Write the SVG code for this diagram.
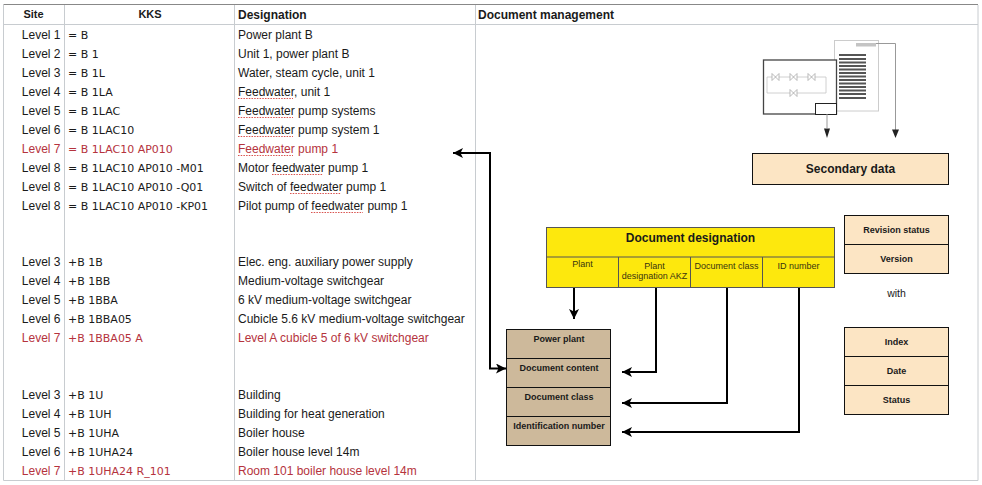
<svg xmlns="http://www.w3.org/2000/svg" width="982" height="485" viewBox="0 0 982 485">
<style>
text{font-family:"Liberation Sans",Arial,sans-serif;font-size:12px;fill:#1a1a1a}
text.r{fill:#b5333d}
.s{text-anchor:end}
.k{font-family:"DejaVu Sans",sans-serif;font-size:11px}
.h{font-weight:bold;font-size:12px}
.hs{font-weight:bold;font-size:11px;text-anchor:middle}
.b{font-weight:bold;font-size:9px;text-anchor:middle}
.y{font-size:9px;text-anchor:middle;fill:#3a3410}
.grid{stroke:#cfd2d6;stroke-width:1;fill:none}
.sq{stroke:#d9534f;stroke-width:1.2;stroke-dasharray:1.5 1.2;fill:none}
.box{stroke:#111;stroke-width:1}
.peach{fill:#fce5c4}
.tan{fill:#cdb99b}
.yel{fill:#fde80d;stroke:#555;stroke-width:1}
.c{fill:none;stroke:#000;stroke-width:2}
.t{fill:none;stroke:#999;stroke-width:1}
.g{fill:none;stroke:#ccc;stroke-width:1}
</style>
<defs>
<marker id="a" markerUnits="userSpaceOnUse" markerWidth="12" markerHeight="10" refX="10" refY="5" orient="auto-start-reverse"><path d="M0 0L10 5L0 10L2.500 5Z" fill="#000"/></marker>
</defs>
<rect width="982" height="485" fill="#fff"/>
<g id="table">
<path class="grid" d="M3.500 480.500V5M3.500 24.500H978M64.500 5V480.500M234.500 5V480.500M475.500 5V480.500M3.500 480.500H978M978 5V480.500" style="stroke:#c8ccd0"/>
<path d="M3.500 4.500H978" stroke="#888" fill="none"/>
<text class="hs" x="33.500" y="18">Site</text>
<text class="hs" x="150" y="18">KKS</text>
<text class="h" x="238" y="19">Designation</text>
<text class="h" x="478" y="19">Document management</text>
<g id="rows">
<text class="s" x="60.500" y="39">Level 1</text><text class="k" x="68" y="39">= B</text><text x="238" y="39">Power plant B</text>
<text class="s" x="60.500" y="58">Level 2</text><text class="k" x="68" y="58">= B 1</text><text x="238" y="58">Unit 1, power plant B</text>
<text class="s" x="60.500" y="77">Level 3</text><text class="k" x="68" y="77">= B 1L</text><text x="238" y="77">Water, steam cycle, unit 1</text>
<text class="s" x="60.500" y="96">Level 4</text><text class="k" x="68" y="96">= B 1LA</text><text x="238" y="96">Feedwater, unit 1</text>
<text class="s" x="60.500" y="115">Level 5</text><text class="k" x="68" y="115">= B 1LAC</text><text x="238" y="115">Feedwater pump systems</text>
<text class="s" x="60.500" y="134">Level 6</text><text class="k" x="68" y="134">= B 1LAC10</text><text x="238" y="134">Feedwater pump system 1</text>
<text class="s r" x="60.500" y="153">Level 7</text><text class="k r" x="68" y="153">= B 1LAC10 AP010</text><text class="r" x="238" y="153">Feedwater pump 1</text>
<text class="s" x="60.500" y="172">Level 8</text><text class="k" x="68" y="172">= B 1LAC10 AP010 -M01</text><text x="238" y="172">Motor feedwater pump 1</text>
<text class="s" x="60.500" y="191">Level 8</text><text class="k" x="68" y="191">= B 1LAC10 AP010 -Q01</text><text x="238" y="191">Switch of feedwater pump 1</text>
<text class="s" x="60.500" y="210">Level 8</text><text class="k" x="68" y="210">= B 1LAC10 AP010 -KP01</text><text x="238" y="210">Pilot pump of feedwater pump 1</text>
<text class="s" x="60.500" y="266">Level 3</text><text class="k" x="68" y="266">+B 1B</text><text x="238" y="266">Elec. eng. auxiliary power supply</text>
<text class="s" x="60.500" y="285">Level 4</text><text class="k" x="68" y="285">+B 1BB</text><text x="238" y="285">Medium-voltage switchgear</text>
<text class="s" x="60.500" y="304">Level 5</text><text class="k" x="68" y="304">+B 1BBA</text><text x="238" y="304">6 kV medium-voltage switchgear</text>
<text class="s" x="60.500" y="323">Level 6</text><text class="k" x="68" y="323">+B 1BBA05</text><text x="238" y="323">Cubicle 5.6 kV medium-voltage switchgear</text>
<text class="s r" x="60.500" y="342">Level 7</text><text class="k r" x="68" y="342">+B 1BBA05 A</text><text class="r" x="238" y="342">Level A cubicle 5 of 6 kV switchgear</text>
<text class="s" x="60.500" y="399">Level 3</text><text class="k" x="68" y="399">+B 1U</text><text x="238" y="399">Building</text>
<text class="s" x="60.500" y="418">Level 4</text><text class="k" x="68" y="418">+B 1UH</text><text x="238" y="418">Building for heat generation</text>
<text class="s" x="60.500" y="437">Level 5</text><text class="k" x="68" y="437">+B 1UHA</text><text x="238" y="437">Boiler house</text>
<text class="s" x="60.500" y="456">Level 6</text><text class="k" x="68" y="456">+B 1UHA24</text><text x="238" y="456">Boiler house level 14m</text>
<text class="s r" x="60.500" y="475">Level 7</text><text class="k r" x="68" y="475">+B 1UHA24 R_101</text><text class="r" x="238" y="475">Room 101 boiler house level 14m</text>
</g>
<path class="sq" d="M238 98.500H293M238 117.500H293M238 136.500H293M238 155.500H293M272 174.500H323M290 193.500H341M311 212.500H363"/>
</g>
<g id="drawing-sheet">
<rect class="g" x="834.500" y="40.500" width="44" height="70.500"/>
<rect x="856" y="43" width="20" height="3.500" fill="#c4c4c4"/>
<path d="M839 55H866M839 59H866M839 62.500H866M839 66H866M839 69.500H866M839 73H866M839 76.500H866M839 80H866M839 83.500H866M839 87H866M839 90.500H866M839 94H866M839 98H866" stroke="#555" stroke-width="2" fill="none"/>
<rect x="763.500" y="60" width="73" height="54" fill="#fff" stroke="#444" stroke-width="1.300"/>
<rect x="815.500" y="103.500" width="21" height="11" fill="#fff" stroke="#222"/>
<path d="M767 77H826V93H767Z" fill="none" stroke="#c4c4c4" stroke-width="0.800"/>
<path d="M772 73.500L779 80.500V73.500L772 80.500ZM790 73.500L797 80.500V73.500L790 80.500ZM808 73.500L815 80.500V73.500L808 80.500ZM790 89.500L797 96.500V89.500L790 96.500Z" fill="#fff" stroke="#aaa" stroke-width="0.800"/>
<path class="t" d="M827 114V128M876 43.500H895.500V130"/>
<path d="M824 128.500H830L827 138ZM892 129.500H899L895.500 138Z" fill="#222"/>
</g>
<g id="secondary-data">
<rect class="box peach" x="752.500" y="153.500" width="196" height="31"/>
<text x="850.500" y="173" text-anchor="middle" style="font-weight:bold;font-size:12px">Secondary data</text>
</g>
<g id="document-designation">
<rect class="yel" x="546.500" y="227.500" width="288" height="60"/>
<path d="M546.500 257H834.500M618.500 257V287.500M690.500 257V287.500M762.500 257V287.500" stroke="#555" fill="none"/>
<text x="690.500" y="242" text-anchor="middle" style="font-weight:bold;font-size:12px">Document designation</text>
<text class="y" x="582.500" y="267">Plant</text>
<text class="y" x="654.500" y="269">Plant</text>
<text class="y" x="654.500" y="279">designation AKZ</text>
<text class="y" x="726.500" y="269">Document class</text>
<text class="y" x="798.500" y="269">ID number</text>
</g>
<g id="document-code">
<rect class="box tan" x="506.500" y="329.500" width="104" height="116"/>
<path d="M506.500 358.500H610.500M506.500 387.500H610.500M506.500 416.500H610.500" stroke="#111" fill="none"/>
<text class="b" x="559" y="342">Power plant</text>
<text class="b" x="559" y="371">Document content</text>
<text class="b" x="559" y="400">Document class</text>
<text class="b" x="559" y="429">Identification number</text>
</g>
<g id="revision">
<rect class="box peach" x="844.500" y="215.500" width="104" height="58"/>
<path d="M844.500 244.500H948.500" stroke="#111"/>
<text class="b" x="896.500" y="233">Revision status</text>
<text class="b" x="896.500" y="262">Version</text>
</g>
<text id="with" x="896.500" y="297" text-anchor="middle" style="font-size:10.500px">with</text>
<g id="index">
<rect class="box peach" x="844.500" y="327.500" width="104" height="87"/>
<path d="M844.500 356.500H948.500M844.500 385.500H948.500" stroke="#111"/>
<text class="b" x="896.500" y="345">Index</text>
<text class="b" x="896.500" y="374">Date</text>
<text class="b" x="896.500" y="403">Status</text>
</g>
<g id="connectors">
<path class="c" marker-end="url(#a)" marker-start="url(#a)" d="M453 153H490V368.500H506"/>
<path class="c" marker-end="url(#a)" d="M574 288V319"/>
<path class="c" marker-end="url(#a)" d="M656 288V372H622"/>
<path class="c" marker-end="url(#a)" d="M727 288V403H622"/>
<path class="c" marker-end="url(#a)" d="M799 288V432H622"/>
</g>
</svg>
